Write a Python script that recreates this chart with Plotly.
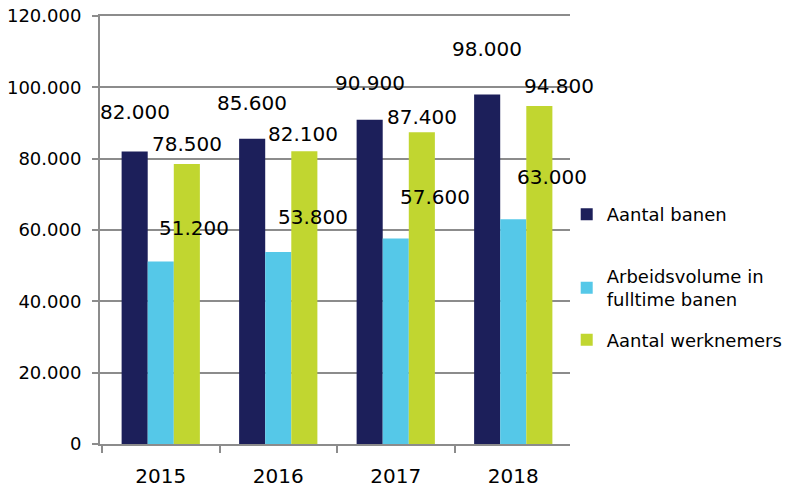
import plotly.graph_objects as go

# ---- data ----
years = ["2015", "2016", "2017", "2018"]
series_names = ["Aantal banen", "Arbeidsvolume in<br>fulltime banen", "Aantal werknemers"]
aantal_banen = [82000, 85600, 90900, 98000]
arbeidsvolume = [51200, 53800, 57600, 63000]
aantal_werknemers = [78500, 82100, 87400, 94800]
y_tick_values = [0, 20000, 40000, 60000, 80000, 100000, 120000]

# ---- styles ----
colors = ["#1C1F5A", "#55C8E8", "#C1D630"]
FONT = "DejaVu Sans"
BARGAP = 0.334
X_PAD = 0.017  # the reference's groups sit a touch right of the category centres
# data-label displacement (pixels) relative to the top-centre of each bar
label_shift = [
    [(0, 40), (0, 36), (0, 37), (0, 45)],
    [(33, 33), (35, 35), (39, 42), (39, 42)],
    [(0, 20), (-1, 17), (0, 15), (20, 20)],
]
legend_y = [0.536, 0.365, 0.243]

series_values = [aantal_banen, arbeidsvolume, aantal_werknemers]
legend_keys = ["legend", "legend2", "legend3"]

fig = go.Figure()
for j, (name, vals) in enumerate(zip(series_names, series_values)):
    fig.add_trace(go.Bar(
        x=years, y=vals, name=name,
        marker=dict(color=colors[j], line=dict(width=0)),
        legend=legend_keys[j],
    ))

bar_w = (1 - BARGAP) / 3
annotations = []
for j, vals in enumerate(series_values):
    for i, v in enumerate(vals):
        dx, dy = label_shift[j][i]
        annotations.append(dict(
            x=i + (j - 1) * bar_w, y=v, xref="x", yref="y",
            text=f"{v:,}".replace(",", "."),
            showarrow=False, xanchor="center", yanchor="middle",
            xshift=dx, yshift=dy,
            font=dict(family=FONT, size=20, color="#000000"),
        ))

legend_common = dict(
    x=0.993, xanchor="left", yanchor="middle",
    font=dict(family=FONT, size=18, color="#000000"),
    bgcolor="rgba(0,0,0,0)", borderwidth=0,
    itemclick=False, itemdoubleclick=False,
)

fig.update_layout(
    width=790, height=491,
    margin=dict(l=100, r=220, t=16, b=47, autoexpand=False),
    paper_bgcolor="white", plot_bgcolor="white",
    barmode="group", bargap=BARGAP, bargroupgap=0,
    separators=",.",
    font=dict(family=FONT, color="#000000"),
    showlegend=True,
    legend=dict(y=legend_y[0], **legend_common),
    legend2=dict(y=legend_y[1], **legend_common),
    legend3=dict(y=legend_y[2], **legend_common),
    annotations=annotations,
    xaxis=dict(
        type="category", range=[-0.5 - X_PAD, len(years) - 0.5 - X_PAD], autorange=False,
        showline=True, mirror=True, linecolor="#8C8C8C", linewidth=2,
        ticks="outside", tickson="boundaries", ticklen=7, tickwidth=2, tickcolor="#8C8C8C",
        tickfont=dict(family=FONT, size=20, color="#000000"),
        ticklabelstandoff=13,
        showgrid=False, zeroline=False,
    ),
    yaxis=dict(
        range=[0, 120000], autorange=False, tickvals=y_tick_values, tickformat=",d",
        showline=True, linecolor="#8C8C8C", linewidth=2,
        ticks="outside", ticklen=6, tickwidth=2, tickcolor="#8C8C8C",
        tickfont=dict(family=FONT, size=18, color="#000000"),
        ticklabelstandoff=7, ticklabeloverflow="allow",
        showgrid=True, gridcolor="#8C8C8C", gridwidth=1.5,
        zeroline=False,
    ),
)

# remove the browser's default 8px body margin so the figure sits at the page origin
fig.write_html(
    "out.html",
    config={"displayModeBar": False},
    post_script="document.body.style.margin='0px';",
)
